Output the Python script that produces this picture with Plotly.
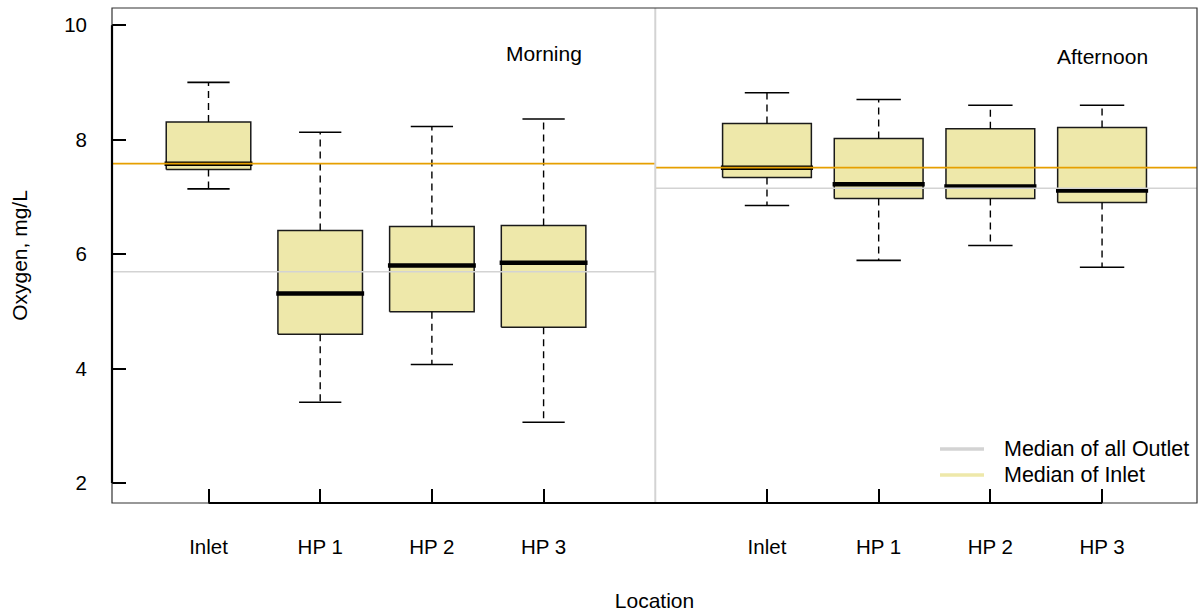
import plotly.graph_objects as go

# ---- data ----
categories = ["Inlet", "HP 1", "HP 2", "HP 3", "Inlet", "HP 1", "HP 2", "HP 3"]
positions = [1, 2, 3, 4, 6, 7, 8, 9]
session = ["Morning"] * 4 + ["Afternoon"] * 4
upper = [9.00, 8.13, 8.23, 8.36, 8.82, 8.70, 8.60, 8.60]
q3 = [8.31, 6.41, 6.48, 6.50, 8.28, 8.02, 8.19, 8.21]
median = [7.58, 5.31, 5.80, 5.85, 7.51, 7.22, 7.18, 7.11]
q1 = [7.48, 4.60, 4.99, 4.72, 7.34, 6.97, 6.97, 6.90]
lower = [7.14, 3.41, 4.07, 3.06, 6.85, 5.89, 6.15, 5.77]
box_width = [0.757, 0.757, 0.757, 0.757, 0.795, 0.795, 0.795, 0.795]

sessions = ["Morning", "Afternoon"]
session_label_pos = [4, 9]
session_label_y = [9.51, 9.46]
inlet_median_line = [7.58, 7.51]
outlet_median_line = [5.69, 7.15]

y_ticks = [2, 4, 6, 8, 10]

# ---- style ----
FONT = "Liberation Sans, Arial, sans-serif"
FILL = "#EEE8AA"
ORANGE = "#E69F00"
GREY = "#D3D3D3"
XR = [0.136, 9.85]
YR = [1.65, 10.30]
DIVIDER = 5

fig = go.Figure()

# boxes
bx, by = [], []
for p, w, a, b in zip(positions, box_width, q1, q3):
    h = w / 2
    bx += [p - h, p + h, p + h, p - h, p - h, None]
    by += [a, a, b, b, a, None]
fig.add_trace(go.Scatter(x=bx, y=by, mode="lines", fill="toself", fillcolor=FILL,
                         line=dict(color="#1a1a1a", width=1.5), hoverinfo="skip",
                         showlegend=False))

# whiskers (dashed)
wx, wy = [], []
for p, lo, a, b, hi in zip(positions, lower, q1, q3, upper):
    wx += [p, p, None, p, p, None]
    wy += [b, hi, None, a, lo, None]
fig.add_trace(go.Scatter(x=wx, y=wy, mode="lines",
                         line=dict(color="black", width=1.4, dash="7px,5px"),
                         hoverinfo="skip", showlegend=False))

# caps
cx, cy = [], []
for p, w, lo, hi in zip(positions, box_width, lower, upper):
    h = w / 4
    cx += [p - h, p + h, None, p - h, p + h, None]
    cy += [hi, hi, None, lo, lo, None]
fig.add_trace(go.Scatter(x=cx, y=cy, mode="lines", line=dict(color="black", width=1.6),
                         hoverinfo="skip", showlegend=False))

# medians (thick)
mx, my = [], []
for p, w, m in zip(positions, box_width, median):
    h = w / 2 + 0.015
    mx += [p - h, p + h, None]
    my += [m, m, None]
fig.add_trace(go.Scatter(x=mx, y=my, mode="lines", line=dict(color="black", width=4.5),
                         hoverinfo="skip", showlegend=False))

# reference median lines per session
spans = [(XR[0], DIVIDER), (DIVIDER, XR[1])]
for (x0, x1), inl, out in zip(spans, inlet_median_line, outlet_median_line):
    fig.add_trace(go.Scatter(x=[x0, x1], y=[out, out], mode="lines",
                             line=dict(color=GREY, width=1.6), hoverinfo="skip",
                             showlegend=False))
    fig.add_trace(go.Scatter(x=[x0, x1], y=[inl, inl], mode="lines",
                             line=dict(color=ORANGE, width=1.6), hoverinfo="skip",
                             showlegend=False))

shapes = [
    # divider between sessions
    dict(type="line", xref="x", yref="paper", x0=DIVIDER, x1=DIVIDER, y0=0, y1=1,
         line=dict(color=GREY, width=2), layer="above"),
    # frame
    dict(type="rect", xref="paper", yref="paper", x0=0, x1=1, y0=0, y1=1,
         line=dict(color="#333333", width=1.2), layer="above"),
    # axis lines (thicker, between first and last tick)
    dict(type="line", xref="paper", yref="y", x0=0, x1=0, y0=y_ticks[0], y1=y_ticks[-1],
         line=dict(color="black", width=2.2), layer="above"),
    dict(type="line", xref="x", yref="paper", x0=positions[0], x1=positions[-1], y0=0, y1=0,
         line=dict(color="black", width=2.2), layer="above"),
]

# manual legend
leg_items = [("Median of all Outlet", GREY), ("Median of Inlet", FILL)]
leg_y = [449, 475]
annotations = []
H, TOP, BOT = 613, 8, 110
plot_h = H - TOP - BOT
L, R, W = 112, 2, 1199
plot_w = W - L - R
for (txt, col), ypx in zip(leg_items, leg_y):
    yp = (H - BOT - ypx) / plot_h
    shapes.append(dict(type="line", xref="paper", yref="paper",
                       x0=(940 - L) / plot_w, x1=(984 - L) / plot_w, y0=yp, y1=yp,
                       line=dict(color=col, width=3.5), layer="above"))
    annotations.append(dict(xref="paper", yref="paper", x=(1002 - L) / plot_w, y=yp,
                            text=txt, showarrow=False, xanchor="left", yanchor="middle",
                            font=dict(family=FONT, size=21.5, color="black")))

for name, px, py in zip(sessions, session_label_pos, session_label_y):
    annotations.append(dict(x=px, y=py, xref="x", yref="y", text=name, showarrow=False,
                            xanchor="center", yanchor="middle",
                            font=dict(family=FONT, size=21, color="black")))

fig.update_layout(
    width=W, height=H,
    margin=dict(l=L, r=R, t=TOP, b=BOT, pad=0),
    paper_bgcolor="white", plot_bgcolor="white",
    font=dict(family=FONT, size=20.5, color="black"),
    shapes=shapes, annotations=annotations, showlegend=False,
    xaxis=dict(range=XR, tickmode="array", tickvals=positions, ticktext=categories,
               ticks="inside", ticklen=14, tickwidth=1.5, tickcolor="black",
               showgrid=False, zeroline=False, showline=False,
               ticklabelstandoff=29, automargin=False,
               title=dict(text="Location", standoff=36, font=dict(size=21))),
    yaxis=dict(range=YR, tickmode="array", tickvals=y_ticks,
               ticktext=[str(v) for v in y_ticks],
               ticks="inside", ticklen=14, tickwidth=1.5, tickcolor="black",
               showgrid=False, zeroline=False, showline=False,
               ticklabelstandoff=24, automargin=False,
               title=dict(text="Oxygen, mg/L", standoff=30, font=dict(size=21))),
)

fig.write_html("out.html")
